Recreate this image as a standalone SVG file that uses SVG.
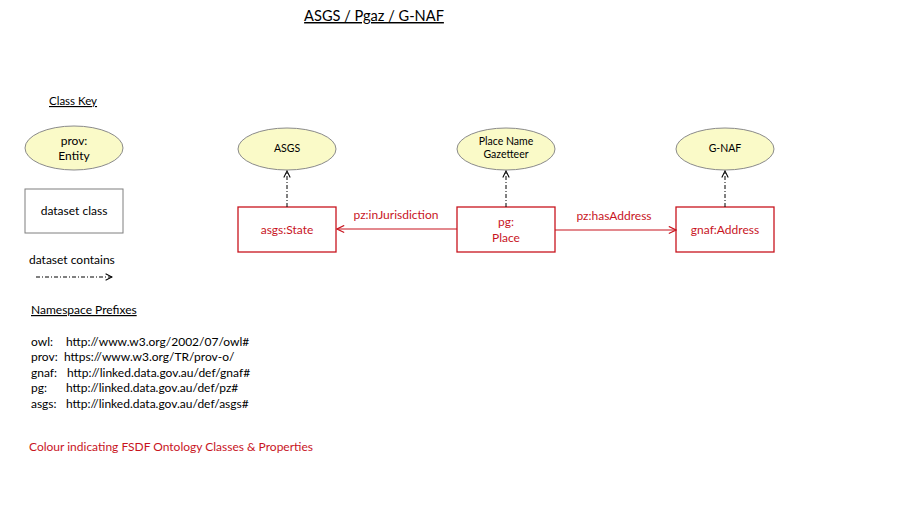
<svg xmlns="http://www.w3.org/2000/svg" width="900" height="506" viewBox="0 0 900 506">
<style>
text{font-family:Lato,"Open Sans","Liberation Sans",sans-serif;fill:#000}
.red{fill:#c8141e}
.ell{fill:#fafac8;stroke:#8a8a8a;stroke-width:1}
.key{fill:#fff;stroke:#7f7f7f;stroke-width:1}
.cls{fill:#fff;stroke:#c8141e;stroke-width:1.3}
.dd{fill:none;stroke:#000;stroke-width:1;stroke-dasharray:4 2 1 2}
.rel{fill:none;stroke:#c8141e;stroke-width:1.2}
.t12{font-size:12px}
.t10{font-size:10.5px}
.ul{text-decoration:underline}
</style>
<defs>
<marker id="openBlack" viewBox="0 0 10 10" refX="9" refY="5" markerWidth="8" markerHeight="8" markerUnits="userSpaceOnUse" orient="auto">
<path d="M1,1 L9,5 L1,9" fill="none" stroke="#000" stroke-width="1.3"/>
</marker>
<marker id="openRed" viewBox="0 0 10 10" refX="9" refY="5" markerWidth="9" markerHeight="9" markerUnits="userSpaceOnUse" orient="auto">
<path d="M1,1 L9,5 L1,9" fill="none" stroke="#c8141e" stroke-width="1.3"/>
</marker>
</defs>
<rect width="900" height="506" fill="#fff"/>

<text x="374" y="21" text-anchor="middle" font-size="14.6" class="ul">ASGS / Pgaz / G-NAF</text>

<g id="key">
<text x="49" y="105" font-size="11.5" class="ul">Class Key</text>
<g id="key-entity">
<ellipse cx="74" cy="148" rx="49" ry="22" class="ell"/>
<text x="74" y="145" text-anchor="middle" class="t12">prov:</text>
<text x="74" y="160" text-anchor="middle" class="t12">Entity</text>
</g>
<g id="key-class">
<rect x="25" y="189" width="98" height="44" class="key"/>
<text x="74" y="215" text-anchor="middle" class="t12">dataset class</text>
</g>
<g id="key-contains">
<text x="29" y="264" class="t12">dataset contains</text>
<line x1="36" y1="277" x2="112" y2="277" class="dd" marker-end="url(#openBlack)"/>
</g>
</g>

<g id="prefixes">
<text x="31" y="314" class="t12 ul">Namespace Prefixes</text>
<text y="346" class="t12"><tspan x="31">owl:</tspan><tspan x="66">http://www.w3.org/2002/07/owl#</tspan></text>
<text y="361" class="t12"><tspan x="31">prov:</tspan><tspan x="64">https://www.w3.org/TR/prov-o/</tspan></text>
<text y="377" class="t12"><tspan x="31">gnaf:</tspan><tspan x="67">http://linked.data.gov.au/def/gnaf#</tspan></text>
<text y="392" class="t12"><tspan x="31">pg:</tspan><tspan x="66">http://linked.data.gov.au/def/pz#</tspan></text>
<text y="408" class="t12"><tspan x="31">asgs:</tspan><tspan x="66">http://linked.data.gov.au/def/asgs#</tspan></text>
<text x="29" y="451" class="t12 red">Colour indicating FSDF Ontology Classes &amp; Properties</text>
</g>

<g id="ds-asgs">
<ellipse cx="287" cy="149" rx="49" ry="21" class="ell"/>
<text x="287" y="152" text-anchor="middle" class="t10">ASGS</text>
</g>
<g id="ds-pngaz">
<ellipse cx="506" cy="149" rx="49" ry="21" class="ell"/>
<text x="506" y="145" text-anchor="middle" class="t10">Place Name</text>
<text x="506" y="158" text-anchor="middle" class="t10">Gazetteer</text>
</g>
<g id="ds-gnaf">
<ellipse cx="725" cy="149" rx="49" ry="21" class="ell"/>
<text x="725" y="152" text-anchor="middle" class="t10">G-NAF</text>
</g>

<g id="asgs-state">
<rect x="238" y="207" width="98" height="45" class="cls"/>
<text x="287" y="234" text-anchor="middle" class="t12 red">asgs:State</text>
</g>
<g id="pg-place">
<rect x="457" y="207" width="98" height="45" class="cls"/>
<text x="506" y="226" text-anchor="middle" class="t12 red">pg:</text>
<text x="506" y="242" text-anchor="middle" class="t12 red">Place</text>
</g>
<g id="gnaf-address">
<rect x="676" y="207" width="98" height="45" class="cls"/>
<text x="725" y="234" text-anchor="middle" class="t12 red">gnaf:Address</text>
</g>

<g id="connectors">
<line x1="287" y1="207" x2="287" y2="171" class="dd" marker-end="url(#openBlack)"/>
<line x1="506" y1="207" x2="506" y2="171" class="dd" marker-end="url(#openBlack)"/>
<line x1="725" y1="207" x2="725" y2="171" class="dd" marker-end="url(#openBlack)"/>
<line x1="457" y1="229" x2="337" y2="229" class="rel" marker-end="url(#openRed)"/>
<text x="396" y="219" text-anchor="middle" class="t12 red">pz:inJurisdiction</text>
<line x1="555" y1="230" x2="676" y2="230" class="rel" marker-end="url(#openRed)"/>
<text x="614" y="220" text-anchor="middle" class="t12 red">pz:hasAddress</text>
</g>
</svg>
